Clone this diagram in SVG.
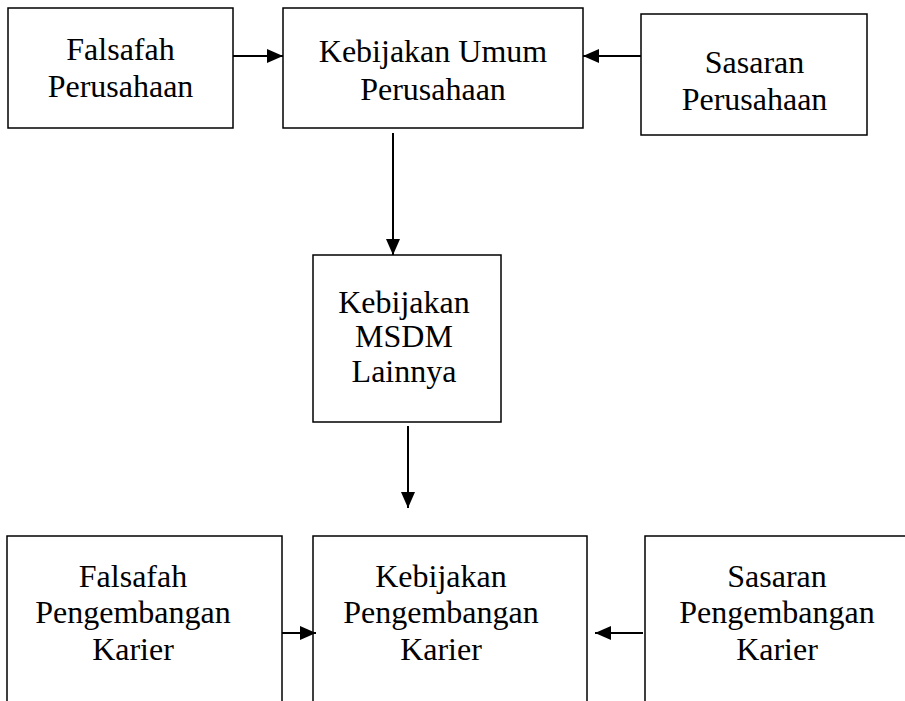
<svg xmlns="http://www.w3.org/2000/svg" width="905" height="701" viewBox="0 0 905 701">
  <style>
    .box { fill: #ffffff; stroke: #000000; stroke-width: 1.5; }
    .lbl { font-family: 'Times New Roman', 'Liberation Serif', Tinos, serif; font-size: 32px; fill: #000000; text-anchor: middle; }
    .conn { stroke: #000000; stroke-width: 2; fill: none; }
  </style>
  <defs>
    <marker id="head" markerUnits="userSpaceOnUse" markerWidth="16" markerHeight="14" refX="16" refY="7" orient="auto">
      <path d="M0,0 L16,7 L0,14 Z" fill="#000000"/>
    </marker>
  </defs>
  <rect width="905" height="701" fill="#ffffff"/>

  <g id="falsafah-perusahaan">
    <rect class="box" x="8" y="8" width="225" height="120"/>
    <text class="lbl" x="120.5" y="60">Falsafah</text>
    <text class="lbl" x="120.5" y="97">Perusahaan</text>
  </g>

  <g id="kebijakan-umum">
    <rect class="box" x="283" y="8" width="300" height="120"/>
    <text class="lbl" x="433" y="62">Kebijakan Umum</text>
    <text class="lbl" x="433" y="100">Perusahaan</text>
  </g>

  <g id="sasaran-perusahaan">
    <rect class="box" x="641" y="14" width="226" height="121"/>
    <text class="lbl" x="754.5" y="73">Sasaran</text>
    <text class="lbl" x="754.5" y="110">Perusahaan</text>
  </g>

  <g id="kebijakan-msdm">
    <rect class="box" x="313" y="255" width="188" height="167"/>
    <text class="lbl" x="404" y="313">Kebijakan</text>
    <text class="lbl" x="404" y="347">MSDM</text>
    <text class="lbl" x="404" y="382">Lainnya</text>
  </g>

  <g id="falsafah-pengembangan">
    <rect class="box" x="7" y="536" width="275" height="200"/>
    <text class="lbl" x="133" y="587">Falsafah</text>
    <text class="lbl" x="133" y="623">Pengembangan</text>
    <text class="lbl" x="133" y="660">Karier</text>
  </g>

  <g id="kebijakan-pengembangan">
    <rect class="box" x="313" y="536" width="274" height="200"/>
    <text class="lbl" x="441" y="587">Kebijakan</text>
    <text class="lbl" x="441" y="623">Pengembangan</text>
    <text class="lbl" x="441" y="660">Karier</text>
  </g>

  <g id="sasaran-pengembangan">
    <rect class="box" x="645" y="536" width="280" height="200"/>
    <text class="lbl" x="777" y="587">Sasaran</text>
    <text class="lbl" x="777" y="623">Pengembangan</text>
    <text class="lbl" x="777" y="660">Karier</text>
  </g>

  <g id="connectors">
    <line class="conn" x1="233" y1="56" x2="283" y2="56" marker-end="url(#head)"/>
    <line class="conn" x1="641" y1="56" x2="583" y2="56" marker-end="url(#head)"/>
    <line class="conn" x1="393" y1="133" x2="393" y2="255" marker-end="url(#head)"/>
    <line class="conn" x1="408" y1="426" x2="408" y2="508" marker-end="url(#head)"/>
    <line class="conn" x1="282" y1="633" x2="316" y2="633" marker-end="url(#head)"/>
    <line class="conn" x1="643" y1="633" x2="595" y2="633" marker-end="url(#head)"/>
  </g>
</svg>
